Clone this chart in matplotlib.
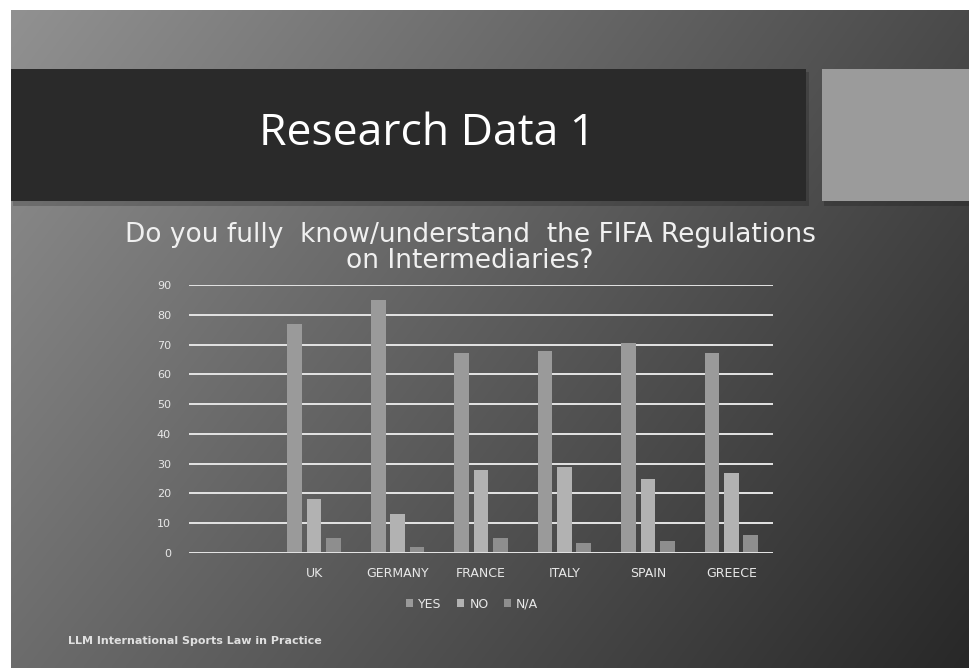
import numpy as np
import matplotlib
matplotlib.use("Agg")
import matplotlib.pyplot as plt
from matplotlib.patches import Rectangle

# ---- data ----
categories = ["", "UK", "GERMANY", "FRANCE", "ITALY", "SPAIN", "GREECE"]
yes_vals = [None, 77, 85, 67, 68, 70.5, 67]
no_vals = [None, 18, 13, 28, 29, 25, 26.7]
na_vals = [None, 5, 2, 5, 3.3, 4, 6]
series_names = ["YES", "NO", "N/A"]
yticks = [0, 10, 20, 30, 40, 50, 60, 70, 80, 90]

W, H = 970, 668
fig = plt.figure(figsize=(W / 100, H / 100), dpi=100)
fig.patch.set_facecolor("white")

# ---- background gradient (slide) ----
bg = fig.add_axes([0, 0, 1, 1])
bg.set_xlim(0, W)
bg.set_ylim(H, 0)
bg.axis("off")
xs = np.linspace(0, 1, 200)
ys = np.linspace(0, 1, 200)
X, Y = np.meshgrid(xs, ys)
tl, tr, bl, br = 145, 74, 108, 40
G = (tl * (1 - X) * (1 - Y) + tr * X * (1 - Y) + bl * (1 - X) * Y + br * X * Y) / 255.0
img = np.dstack([G, G, G])
bg.imshow(img, extent=[11, W, H, 10], aspect="auto", interpolation="bilinear", zorder=0)

# shadows
bg.add_patch(Rectangle((13, 72), 796, 134, facecolor="black", alpha=0.18, edgecolor="none", zorder=1))
bg.add_patch(Rectangle((824, 72), 150, 134, facecolor="black", alpha=0.18, edgecolor="none", zorder=1))
# title bar and grey square
bg.add_patch(Rectangle((11, 69), 795, 132, facecolor="#2a2a2a", edgecolor="none", zorder=2))
bg.add_patch(Rectangle((822, 69), 150, 132, facecolor="#9b9b9b", edgecolor="none", zorder=2))
bg.text(427, 134, "Research Data 1", color="white", fontsize=32, family="Open Sans",
        ha="center", va="center", zorder=3)

# chart title
bg.text(470, 235, "Do you fully  know/understand  the FIFA Regulations", color="#f0f0f0",
        fontsize=19, family="DejaVu Sans", ha="center", va="center", zorder=3)
bg.text(470, 261, "on Intermediaries?", color="#f0f0f0",
        fontsize=19, family="DejaVu Sans", ha="center", va="center", zorder=3)

# footer
bg.text(68, 641, "LLM International Sports Law in Practice", color="#e0e0e0",
        fontsize=8, fontweight="bold", family="DejaVu Sans", ha="left", va="center", zorder=3)

# ---- chart ----
ax = fig.add_axes([189 / W, (H - 553) / H, (773 - 189) / W, (553 - 285) / H])
ax.patch.set_alpha(0)
x = np.arange(len(categories))
off = 0.232
bw = 0.175
colors = ["#9a9a9a", "#b2b2b2", "#8e8e8e"]
for k, (vals, c, name) in enumerate(zip([yes_vals, no_vals, na_vals], colors, series_names)):
    xx = [xi + (k - 1) * off for xi, v in zip(x, vals) if v is not None]
    vv = [v for v in vals if v is not None]
    ax.bar(xx, vv, width=bw, color=c, label=name, zorder=3)

ax.set_xlim(-0.5, len(categories) - 0.5)
ax.set_ylim(0, 90)
ax.set_yticks(yticks)
ax.set_xticks(x)
ax.set_xticklabels(categories)
for s in ax.spines.values():
    s.set_visible(False)
ax.yaxis.grid(True, color="#e4e4e4", linewidth=1.4, zorder=1)
ax.set_axisbelow(True)
ax.tick_params(axis="both", length=0, colors="#e8e8e8", labelsize=8)
ax.tick_params(axis="x", labelsize=9, pad=10)
ax.tick_params(axis="y", pad=13)
ax.axhline(0, color="#e4e4e4", linewidth=1.4, zorder=4)

leg = ax.legend(loc="upper center", bbox_to_anchor=((472 - 189) / (773 - 189), -0.125), ncol=3,
                frameon=False, fontsize=9, handlelength=0.6, handleheight=0.6,
                handletextpad=0.4, columnspacing=1.2, labelcolor="#e8e8e8")

fig.savefig("out.png", dpi=100, facecolor=fig.get_facecolor())
